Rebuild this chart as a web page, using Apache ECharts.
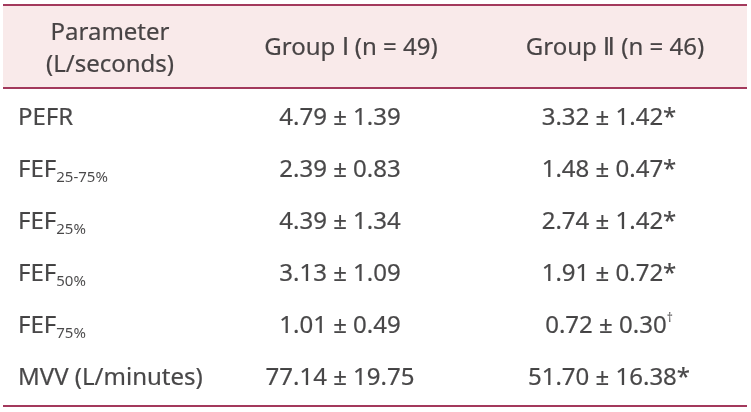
<!DOCTYPE html>
<html><head><meta charset="utf-8">
<script src="https://cdn.jsdelivr.net/npm/echarts@6/dist/echarts.min.js"></script>
<style>html,body{margin:0;padding:0;background:#fff}#c{width:751px;height:412px}</style>
</head><body><div id="c"></div>
<script>
const headerLabels = ['Parameter\n(L/seconds)', 'Group \u2160 (n = 49)', 'Group \u2161 (n = 46)'];
const rowLabels = ['PEFR', 'FEF', 'FEF', 'FEF', 'FEF', 'MVV (L/minutes)'];
const rowSubs = ['', '25-75%', '25%', '50%', '75%', ''];
const group1Mean = ['4.79', '2.39', '4.39', '3.13', '1.01', '77.14'];
const group1SD = ['1.39', '0.83', '1.34', '1.09', '0.49', '19.75'];
const group2Mean = ['3.32', '1.48', '2.74', '1.91', '0.72', '51.70'];
const group2SD = ['1.42', '0.47', '1.42', '0.72', '0.30', '16.38'];
const group2Mark = ['*', '*', '*', '*', '\u2020', '*'];

const FONT = '"Noto Sans", sans-serif';
const TXT = '#1c1a1b';
const LINE = '#a3395c';
const rowY = i => 118 + i * 52;
const colX = [18, 340, 609];
const bold = {textBorderColor: TXT, textBorderWidth: 0.2};

const rich = {
  t: Object.assign({fontSize: 24, fontFamily: FONT, color: TXT}, bold),
  sub: {fontSize: 15, fontFamily: FONT, color: TXT, padding: [15, 0, 0, 0]},
  sup: {fontSize: 12, fontFamily: FONT, color: TXT, padding: [0, 0, 14, 0]}
};

function col1Text(i) {
  return '{t|' + rowLabels[i] + '}' + (rowSubs[i] ? '{sub|' + rowSubs[i] + '}' : '');
}
function col2Text(i) { return '{t|' + group1Mean[i] + ' \u00b1 ' + group1SD[i] + '}'; }
function col3Text(i) {
  const m = group2Mark[i];
  return '{t|' + group2Mean[i] + ' \u00b1 ' + group2SD[i] + '}' + (m === '*' ? '{t|*}' : '{sup|' + m + '}');
}

const chart = echarts.init(document.getElementById('c'), null, {renderer: 'canvas'});
chart.setOption({
  animation: false,
  grid: {left: 0, right: 0, top: 0, bottom: 0},
  xAxis: {type: 'value', min: 0, max: 751, show: false},
  yAxis: {type: 'value', min: 0, max: 412, inverse: true, show: false},
  series: [
    {
      type: 'scatter', symbolSize: 0, silent: true,
      data: [[110, 49], [351, 48], [615, 48]],
      label: Object.assign({show: true, position: 'inside', fontSize: 24, fontFamily: FONT, color: TXT,
        lineHeight: 32, align: 'center',
        formatter: p => headerLabels[p.dataIndex]}, bold),
      markArea: {silent: true, itemStyle: {color: '#f9eaea'},
        data: [[{coord: [3, 6]}, {coord: [747, 87]}]]},
      markLine: {silent: true, symbol: 'none', label: {show: false},
        lineStyle: {color: LINE, width: 2, type: 'solid'},
        data: [
          [{coord: [3, 5]}, {coord: [747, 5]}],
          [{coord: [3, 88]}, {coord: [747, 88]}],
          [{coord: [3, 406]}, {coord: [747, 406]}]
        ]}
    },
    {
      type: 'scatter', symbolSize: 0, silent: true,
      data: rowLabels.map((_, i) => [colX[0], rowY(i)]),
      label: {show: true, position: 'right', distance: 0, rich,
        formatter: p => col1Text(p.dataIndex)}
    },
    {
      type: 'scatter', symbolSize: 0, silent: true,
      data: group1Mean.map((_, i) => [colX[1], rowY(i)]),
      label: {show: true, position: 'inside', rich,
        formatter: p => col2Text(p.dataIndex)}
    },
    {
      type: 'scatter', symbolSize: 0, silent: true,
      data: group2Mean.map((_, i) => [colX[2], rowY(i)]),
      label: {show: true, position: 'inside', rich,
        formatter: p => col3Text(p.dataIndex)}
    }
  ]
});
</script></body></html>
